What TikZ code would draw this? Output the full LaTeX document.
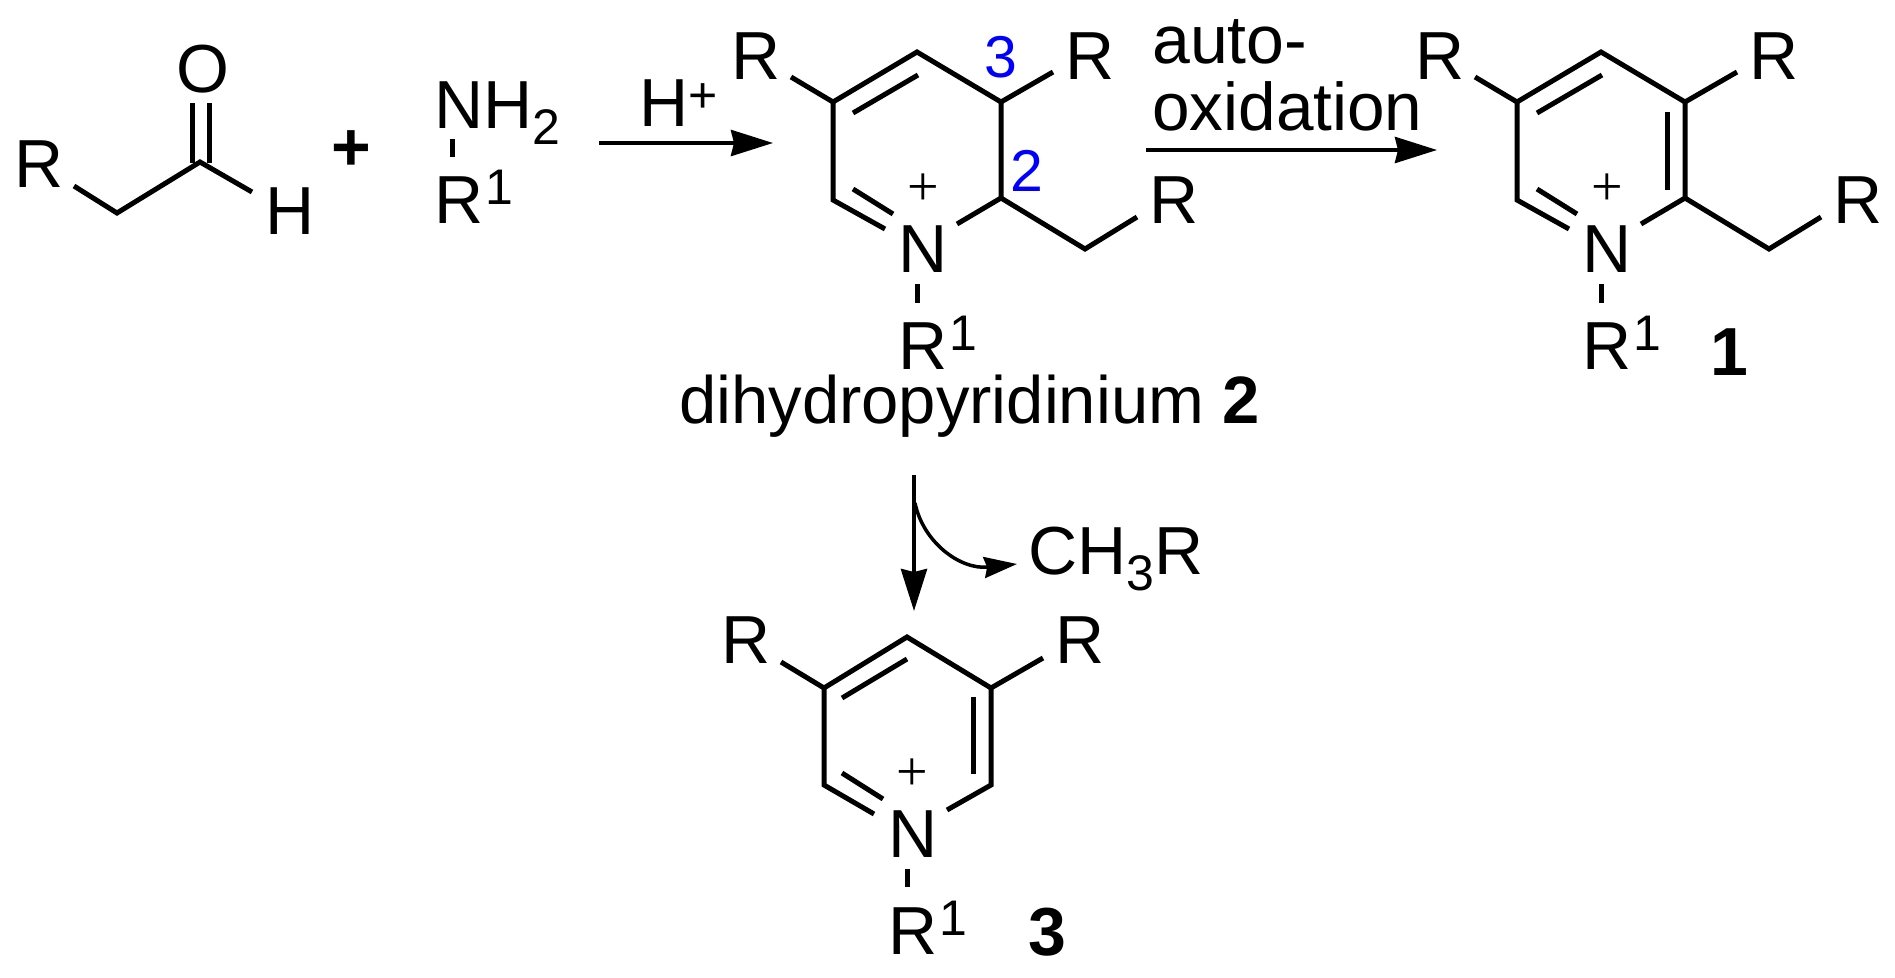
\documentclass[tikz,border=0pt]{standalone}
\usepackage{fontspec}
\setmainfont{Liberation Sans}
\newfontfamily\plusfont{Liberation Serif}
\usetikzlibrary{arrows.meta}
\newcommand{\supnum}[1]{\hspace{2pt}\raisebox{19pt}{\fontsize{50}{50}\selectfont #1}}
\newcommand{\subnum}[1]{\raisebox{-16pt}{\fontsize{50}{50}\selectfont #1}}

\begin{document}
\begin{tikzpicture}[x=1pt, y=-1pt]
% -------------------------------------------------
\tikzset{
  atom/.style={anchor=base west, inner sep=0pt, font=\fontsize{68}{78}\selectfont},
  boldatom/.style={atom, font=\bfseries\fontsize{68}{78}\selectfont},
  num/.style={atom, text=blue, font=\fontsize{59}{68}\selectfont},
  charge/.style={inner sep=0pt, font=\fontsize{56}{56}\plusfont},
  bond/.style={draw, line width=5pt},
  line/.style={draw, line width=4pt, -{Stealth[length=42pt, width=26pt, inset=3pt]}},
  curve/.style={draw, line width=3.5pt, -{Stealth[length=33pt, width=21pt, inset=3pt]}}
}
\useasboundingbox (0,0) rectangle (1895,977);
% -------------------------------------------------
% Aldehyde and amine
\node[atom] (ra) at (14,187) {R};
\node[atom] (oa) at (176,92) {O};
\node[atom] (ha) at (265,234) {H};
\node[boldatom] (plus) at (331,170) {+};
\node[atom] (nh) at (434,128) {NH\subnum{2}};
\node[atom] (rb) at (434,223) {R\supnum{1}};

\coordinate (a0) at (74,186);
\coordinate (a1) at (117,213);
\coordinate (a2) at (200,162);
\coordinate (a3) at (252,192);
\coordinate (a4) at (192,163);
\coordinate (a5) at (192,103);
\coordinate (a6) at (209,163);
\coordinate (a7) at (209,103);
\coordinate (a8) at (452,139);
\coordinate (a9) at (452,157);
\path [bond] (a0) -- (a1) -- (a2) -- (a3);
\path [bond] (a4) -- (a5);
\path [bond] (a6) -- (a7);
\path [bond] (a8) -- (a9);

% First arrow
\coordinate (s0) at (599,143);
\coordinate (s1) at (773,143);
\path [line] (s0) -- (s1);
\node[atom] (hp) at (639,126) {H\raisebox{14pt}{\fontsize{50}{50}\selectfont +}};

% Dihydropyridinium
\node[atom] (rc) at (731,79) {R};
\node[num] (n3) at (984,77) {3};
\node[atom] (rd) at (1065,79) {R};
\node[num] (n2) at (1010,191) {2};
\node[atom] (re) at (1149,223) {R};
\node[atom] (nc) at (898,272) {N};
\node[charge] (pc) at (923,190) {+};
\node[atom] (rf) at (898,369) {R\supnum{1}};
\node[atom, font=\fontsize{67}{78}\selectfont] (dh) at (679,423) {dihydropyridinium \textbf{2}};

\coordinate (c1) at (791,77);
\coordinate (c2) at (833,102);
\coordinate (c3) at (917,52);
\coordinate (c4) at (1001,102);
\coordinate (c5) at (1053,72);
\coordinate (c6) at (1001,198);
\coordinate (c7) at (957,224);
\coordinate (c8) at (1085,249);
\coordinate (c9) at (1137,217);
\coordinate (c10) at (833,200);
\coordinate (c11) at (885,229);
\coordinate (c12) at (853,113);
\coordinate (c13) at (918,75);
\coordinate (c14) at (853,189);
\coordinate (c15) at (893,214);
\coordinate (c16) at (917,284);
\coordinate (c17) at (917,303);
\path [bond] (c1) -- (c2) -- (c3) -- (c4) -- (c5);
\path [bond] (c4) -- (c6) -- (c7);
\path [bond] (c6) -- (c8) -- (c9);
\path [bond] (c2) -- (c10) -- (c11);
\path [bond] (c12) -- (c13);
\path [bond] (c14) -- (c15);
\path [bond] (c16) -- (c17);

% Second arrow
\coordinate (s2) at (1146,150);
\coordinate (s3) at (1437,150);
\path [line] (s2) -- (s3);
\node[atom] (ax) at (1152,63) {auto-};
\node[atom, font=\fontsize{67.5}{78}\selectfont] (ox) at (1152,130) {oxidation};

% Pyridinium 1
\node[atom] (rg) at (1415,79) {R};
\node[atom] (rh) at (1749,79) {R};
\node[atom] (ri) at (1833,223) {R};
\node[atom] (nd) at (1582,272) {N};
\node[charge] (pd) at (1607,190) {+};
\node[atom] (rj) at (1582,369) {R\supnum{1}};
\node[boldatom] (one) at (1710,375) {1};

\coordinate (d1) at (1475,77);
\coordinate (d2) at (1517,102);
\coordinate (d3) at (1601,52);
\coordinate (d4) at (1685,102);
\coordinate (d5) at (1737,72);
\coordinate (d6) at (1685,198);
\coordinate (d7) at (1641,224);
\coordinate (d8) at (1769,249);
\coordinate (d9) at (1821,217);
\coordinate (d10) at (1517,200);
\coordinate (d11) at (1569,229);
\coordinate (d12) at (1537,113);
\coordinate (d13) at (1602,75);
\coordinate (d14) at (1537,189);
\coordinate (d15) at (1577,214);
\coordinate (d16) at (1601,284);
\coordinate (d17) at (1601,303);
\coordinate (d18) at (1667,112);
\coordinate (d19) at (1667,190);
\path [bond] (d1) -- (d2) -- (d3) -- (d4) -- (d5);
\path [bond] (d4) -- (d6) -- (d7);
\path [bond] (d6) -- (d8) -- (d9);
\path [bond] (d2) -- (d10) -- (d11);
\path [bond] (d12) -- (d13);
\path [bond] (d14) -- (d15);
\path [bond] (d16) -- (d17);
\path [bond] (d18) -- (d19);

% Third arrow
\coordinate (s4) at (914,475);
\coordinate (s5) at (914,611);
\coordinate (s6) at (915,503);
\coordinate (s7) at (1017,564);
\path [line] (s4) -- (s5);
\path [curve] (s6) .. controls (923,542) and (960,570) .. (s7);
\node[atom] (ch) at (1028,574) {CH\subnum{3}R};

% Pyridinium 3
\node[atom] (rk) at (721,663) {R};
\node[atom] (rl) at (1055,663) {R};
\node[atom] (ne) at (888,857) {N};
\node[charge] (pe) at (912,775) {+};
\node[atom] (rm) at (888,954) {R\supnum{1}};
\node[boldatom] (three) at (1028,955) {3};

\coordinate (e1) at (781,662);
\coordinate (e2) at (824,688);
\coordinate (e3) at (907,637);
\coordinate (e4) at (991,688);
\coordinate (e5) at (1043,658);
\coordinate (e6) at (991,785);
\coordinate (e7) at (947,810);
\coordinate (e8) at (824,785);
\coordinate (e9) at (874,814);
\coordinate (e10) at (842,698);
\coordinate (e11) at (907,659);
\coordinate (e12) at (842,773);
\coordinate (e13) at (883,799);
\coordinate (e14) at (973,697);
\coordinate (e15) at (973,774);
\coordinate (e16) at (907,869);
\coordinate (e17) at (907,887);
\path [bond] (e1) -- (e2) -- (e3) -- (e4) -- (e5);
\path [bond] (e4) -- (e6) -- (e7);
\path [bond] (e2) -- (e8) -- (e9);
\path [bond] (e10) -- (e11);
\path [bond] (e12) -- (e13);
\path [bond] (e14) -- (e15);
\path [bond] (e16) -- (e17);

\end{tikzpicture}
\end{document}
